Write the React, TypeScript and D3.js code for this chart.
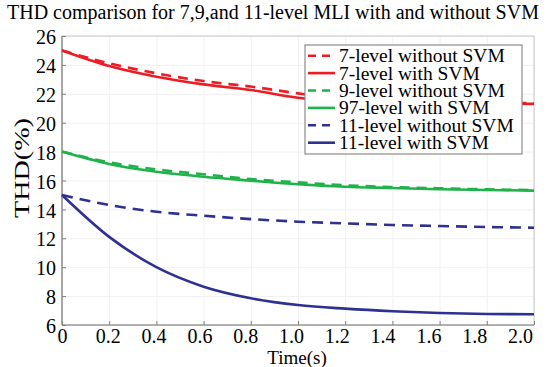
import React, { useRef, useEffect } from "react";
import * as d3 from "d3";

// time samples (s) read at the tick positions of the reference
const times = [0, 0.2, 0.4, 0.6, 0.8, 1.0, 1.2, 1.4, 1.6, 1.8, 2.0];

const thd7NoSvm = [25.0, 24.11, 23.42, 22.88, 22.5, 22.03, 21.62, 21.5, 21.42, 21.37, 21.35];
const thd7Svm = [25.0, 23.92, 23.18, 22.65, 22.26, 21.73, 21.5, 21.42, 21.36, 21.32, 21.3];
const thd9NoSvm = [18.0, 17.26, 16.77, 16.43, 16.1, 15.87, 15.67, 15.55, 15.46, 15.39, 15.34];
const thd9Svm = [18.0, 17.14, 16.6, 16.26, 15.99, 15.74, 15.57, 15.48, 15.39, 15.34, 15.3];
const thd11NoSvm = [15.0, 14.3, 13.84, 13.56, 13.33, 13.15, 13.03, 12.92, 12.85, 12.78, 12.73];
const thd11Svm = [15.0, 12.1, 10.0, 8.65, 7.85, 7.38, 7.13, 6.95, 6.83, 6.76, 6.74];

const seriesNames = [
    "7-level without SVM",
    "7-level with SVM",
    "9-level without SVM",
    "97-level with SVM",
    "11-level without SVM",
    "11-level with SVM",
];

const xTicks = [0, 0.2, 0.4, 0.6, 0.8, 1.0, 1.2, 1.4, 1.6, 1.8, 2.0];
const yTicks = [6, 8, 10, 12, 14, 16, 18, 20, 22, 24, 26];

const titleText = "THD comparison for 7,9,and 11-level MLI with and without SVM";

const RED = "#ed1c24";
const GREEN = "#1fb24a";
const BLUE = "#2e3192";

const FONT = "Liberation Serif";

export default function App() {
    const ref = useRef<SVGSVGElement>(null);

    useEffect(() => {
        if (!ref.current) return;
        const svg = d3.select(ref.current);
        svg.selectAll("*").remove();

        const W = 546, H = 367;
        const margin = { top: 36, right: 12, bottom: 42, left: 62 };
        const innerW = W - margin.left - margin.right;
        const innerH = H - margin.top - margin.bottom;

        const x = d3.scaleLinear().domain([0, 2.0]).range([0, innerW]);
        // labels in the reference sit a little left of their ticks
        const xLabel = d3.scaleLinear().domain([0, 2.0]).range([0, innerW - 14]);
        const y = d3.scaleLinear().domain([6, 26]).range([innerH, 0]);

        svg.append("text")
            .attr("x", 273).attr("y", 19)
            .attr("text-anchor", "middle")
            .attr("font-family", FONT).attr("font-size", 20)
            .text(titleText);

        const g = svg.append("g").attr("transform", `translate(${margin.left},${margin.top})`);

        // faint grid
        g.append("g")
            .call(d3.axisLeft(y).tickValues(yTicks).tickSize(-innerW).tickFormat(() => ""))
            .call(s => s.select(".domain").remove())
            .call(s => s.selectAll("line").attr("stroke", "#f1f1f1"));
        g.append("g")
            .attr("transform", `translate(0,${innerH})`)
            .call(d3.axisBottom(x).tickValues(xTicks).tickSize(-innerH).tickFormat(() => ""))
            .call(s => s.select(".domain").remove())
            .call(s => s.selectAll("line").attr("stroke", "#f1f1f1"));

        // frame
        g.append("rect")
            .attr("width", innerW).attr("height", innerH)
            .attr("fill", "none").attr("stroke", "#c8c8c8").attr("stroke-width", 1);
        g.append("line").attr("x1", 0).attr("x2", 0).attr("y1", 0).attr("y2", innerH)
            .attr("stroke", "#808080").attr("stroke-width", 1.2);
        g.append("line").attr("x1", 0).attr("x2", innerW).attr("y1", innerH).attr("y2", innerH)
            .attr("stroke", "#808080").attr("stroke-width", 1.2);

        // tick marks (inward)
        g.append("g")
            .attr("transform", `translate(0,${innerH})`)
            .call(d3.axisTop(x).tickValues(xTicks).tickSize(4).tickFormat(() => ""))
            .call(s => s.select(".domain").remove())
            .call(s => s.selectAll("line").attr("stroke", "#808080"));
        g.append("g")
            .call(d3.axisRight(y).tickValues(yTicks).tickSize(4).tickFormat(() => ""))
            .call(s => s.select(".domain").remove())
            .call(s => s.selectAll("line").attr("stroke", "#808080"));

        // tick labels
        g.append("g")
            .attr("transform", `translate(0,${innerH})`)
            .call(d3.axisBottom(xLabel).tickValues(xTicks).tickSize(0).tickPadding(4)
                .tickFormat(d => (d === 0 ? "0" : (d as number).toFixed(1))))
            .call(s => s.select(".domain").remove())
            .call(s => s.selectAll("text").attr("font-family", FONT).attr("font-size", 20).attr("fill", "#000"));
        g.append("g")
            .call(d3.axisLeft(y).tickValues(yTicks).tickSize(0).tickPadding(6).tickFormat(d3.format("d")))
            .call(s => s.select(".domain").remove())
            .call(s => s.selectAll("text").attr("font-family", FONT).attr("font-size", 20).attr("fill", "#000")
                .attr("dy", "0.38em"));

        // axis titles
        svg.append("text")
            .attr("x", 297).attr("y", 364)
            .attr("text-anchor", "middle")
            .attr("font-family", FONT).attr("font-size", 19)
            .text("Time(s)");
        svg.append("text")
            .attr("transform", "translate(29,168) rotate(-90)")
            .attr("text-anchor", "middle")
            .attr("font-family", FONT).attr("font-size", 22)
            .attr("textLength", 100).attr("lengthAdjust", "spacingAndGlyphs")
            .text("THD(%)");

        // lines
        const series = [
            { name: seriesNames[0], values: thd7NoSvm, color: RED, dash: "10 7" },
            { name: seriesNames[1], values: thd7Svm, color: RED, dash: null },
            { name: seriesNames[2], values: thd9NoSvm, color: GREEN, dash: "10 7" },
            { name: seriesNames[3], values: thd9Svm, color: GREEN, dash: null },
            { name: seriesNames[4], values: thd11NoSvm, color: BLUE, dash: "11 7" },
            { name: seriesNames[5], values: thd11Svm, color: BLUE, dash: null },
        ];

        const lineGen = d3.line<number>()
            .x((_, i) => x(times[i]))
            .y(d => y(d))
            .curve(d3.curveMonotoneX);

        g.append("g").selectAll("path")
            .data(series)
            .enter().append("path")
            .attr("d", d => lineGen(d.values))
            .attr("fill", "none")
            .attr("stroke", d => d.color)
            .attr("stroke-width", 2.6)
            .attr("stroke-dasharray", d => d.dash);

        // legend
        const lg = svg.append("g").attr("transform", "translate(305,45)");
        lg.append("rect")
            .attr("width", 217).attr("height", 109)
            .attr("fill", "#fff").attr("stroke", "#8c8c8c").attr("stroke-width", 1.2);
        const rows = lg.selectAll(".row").data(series).enter().append("g")
            .attr("class", "row")
            .attr("transform", (_, i) => `translate(0,${10.7 + i * 17.4})`);
        rows.append("line")
            .attr("x1", 3).attr("x2", 30)
            .attr("stroke", d => d.color).attr("stroke-width", 2.6)
            .attr("stroke-dasharray", d => (d.dash ? "8 6" : null));
        rows.append("text")
            .attr("x", 34).attr("dy", "0.33em")
            .attr("font-family", FONT).attr("font-size", 19.5)
            .text(d => d.name);
    }, []);

    return (
        <svg
            ref={ref}
            width={546}
            height={367}
            style={{ position: "absolute", left: 0, top: 0, background: "#fff" }}
        />
    );
}
